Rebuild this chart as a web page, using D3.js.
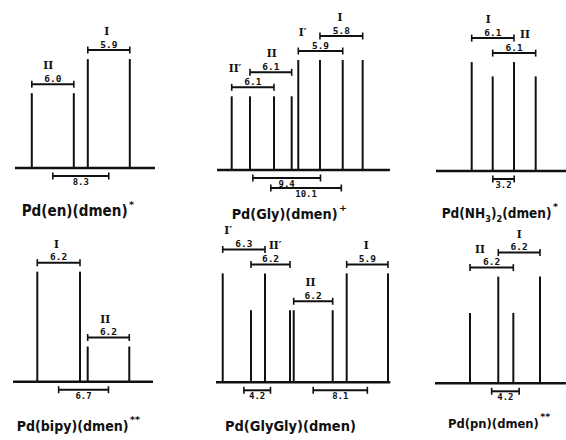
<!DOCTYPE html>
<html><head><meta charset="utf-8">
<script src="https://cdn.jsdelivr.net/npm/d3@7"></script>
<style>body{margin:0;background:#fff}svg{display:block}</style></head>
<body><svg id="c" width="566" height="440"></svg>
<script>
// ---- data (positions in Hz within each spectrum) ----
// titles: array of [text, isSubscript] segments
const titles = [
  [["Pd(en)(dmen)", 0]],
  [["Pd(Gly)(dmen)", 0]],
  [["Pd(NH", 0], ["3", 1], [")", 0], ["2", 1], ["(dmen)", 0]],
  [["Pd(bipy)(dmen)", 0]],
  [["Pd(GlyGly)(dmen)", 0]],
  [["Pd(pn)(dmen)", 0]]
];
const titleSup = ["*", "+", "*", "**", "", "**"];
const multLabels = [["II","I"],["II′","II","I′","I"],["I","II"],["I","II"],["I′","II′","II","I"],["II","I"]];
const multLines = [
  [[2.4, 8.4], [10.4, 16.4]],
  [[2.1, 8.14], [4.71, 10.67], [11.61, 17.96], [14.71, 20.81]],
  [[5.1, 11.14], [8.1, 14.24]],
  [[3.47, 9.57], [10.67, 16.61]],
  [[0.96, 7.0], [5.0, 10.57], [11.1, 16.67], [18.67, 24.57]],
  [[5.0, 11.19], [9.04, 15.0]]
];
const multHeights = [[0.68, 0.99], [0.67, 0.67, 1.0, 1.0], [0.99, 0.86], [1.0, 0.32], [0.99, 0.655, 0.655, 0.99], [0.64, 0.97]];
const couplingJ = [["6.0","5.9"], ["6.1","6.1","5.9","5.8"], ["6.1","6.1"], ["6.2","6.2"], ["6.3","6.2","6.2","5.9"], ["6.2","6.2"]];
const shiftDiff = [[[0,1,"8.3"]], [[0,2,"9.4"],[1,3,"10.1"]], [[0,1,"3.2"]], [[0,1,"6.7"]], [[0,1,"4.2"],[2,3,"8.1"]], [[0,1,"4.2"]]];
const axisSpan = [20, 24.7, 18.6, 20, 24.9, 18.7];

// ---- layout ----
const panelLeft = [15, 217, 436, 13, 216, 435];
const pxPerHz = 7;
const baseY = [168, 170, 171, 381.7, 382.3, 383.3];
const jTier = [[1,1],[1,2,1,2],[2,1],[1,1],[2,1,1,1],[1,2]];
const shiftTier = [[1],[1,2],[1],[1],[1,1],[1]];
const labelFrac = [[0.39,0.45],[0.08,0.52,0.1,0.47],[0.39,0.75],[0.45,0.42],[0.13,0.62,0.43,0.47],[0.23,0.5]];
const titleX = [21.7, 231.7, 441.7, 16.7, 225, 448];
const titleY = [216, 219, 218, 431, 430.5, 427.5];
const titleW = [106, 106, 110, 112, 131, 91];

const svg = d3.select("#c");
svg.append("rect").attr("width",566).attr("height",440).attr("fill","#fff");
const ink = "#111";
const titleFont = "'Liberation Sans Narrow', 'DejaVu Sans Condensed', 'DejaVu Sans', sans-serif";
const hScale = d3.scaleLinear().domain([0, 1]).range([0, 110]);

titles.forEach((segs, p) => {
  const g = svg.append("g");
  const x = d3.scaleLinear().domain([0, axisSpan[p]]).range([panelLeft[p], panelLeft[p] + axisSpan[p] * pxPerHz]);
  const y0 = baseY[p];
  g.append("line").attr("x1", x(0)).attr("x2", x(axisSpan[p])).attr("y1", y0).attr("y2", y0)
    .attr("stroke", ink).attr("stroke-width", 2.6);
  const lines = [];
  multLines[p].forEach((m, i) => m.forEach(v => lines.push({v, h: multHeights[p][i]})));
  g.selectAll("line.pk").data(lines).join("line").attr("class","pk")
    .attr("x1", d => x(d.v)).attr("x2", d => x(d.v))
    .attr("y1", y0).attr("y2", d => y0 - hScale(d.h))
    .attr("stroke", ink).attr("stroke-width", 2);
  multLines[p].forEach((m, i) => {
    const a = d3.min(m), b = d3.max(m);
    const maxH = d3.max(lines.filter(l => l.v >= a - 0.01 && l.v <= b + 0.01), l => l.h);
    const by = y0 - hScale(maxH) - (jTier[p][i] === 1 ? 9 : 24);
    const bg = g.append("g");
    bg.append("line").attr("x1", x(a)).attr("x2", x(b)).attr("y1", by).attr("y2", by).attr("stroke", ink).attr("stroke-width", 2);
    [a, b].forEach(v => bg.append("line").attr("x1", x(v)).attr("x2", x(v)).attr("y1", by - 3.5).attr("y2", by + 3.5).attr("stroke", ink).attr("stroke-width", 1.6));
    bg.append("text").attr("x", (x(a) + x(b)) / 2).attr("y", by - 2.5).attr("text-anchor", "middle")
      .attr("font-family", "DejaVu Sans Mono").attr("font-weight", "bold").attr("font-size", 9.5).attr("fill", ink)
      .text(couplingJ[p][i]);
    bg.append("text").attr("x", x(a) + (x(b) - x(a)) * labelFrac[p][i]).attr("y", by - 15).attr("text-anchor", "middle")
      .attr("font-family", "DejaVu Serif").attr("font-weight", "bold").attr("font-size", 10.5).attr("fill", ink)
      .text(multLabels[p][i]);
  });
  shiftDiff[p].forEach((s, k) => {
    const ca = d3.mean(multLines[p][s[0]]), cb = d3.mean(multLines[p][s[1]]);
    const by = y0 + (shiftTier[p][k] === 1 ? 8 : 18);
    const sg = g.append("g");
    sg.append("line").attr("x1", x(ca)).attr("x2", x(cb)).attr("y1", by).attr("y2", by).attr("stroke", ink).attr("stroke-width", 2);
    [ca, cb].forEach(v => sg.append("line").attr("x1", x(v)).attr("x2", x(v)).attr("y1", by - 3.5).attr("y2", by + 3.5).attr("stroke", ink).attr("stroke-width", 1.6));
    sg.append("text").attr("x", (x(ca) + x(cb)) / 2).attr("y", by + 9).attr("text-anchor", "middle")
      .attr("font-family", "DejaVu Sans Mono").attr("font-weight", "bold").attr("font-size", 9).attr("fill", ink)
      .text(s[2]);
  });
  const fs0 = 15;
  const tt = g.append("text").attr("x", titleX[p]).attr("y", titleY[p])
    .attr("font-family", titleFont).attr("font-weight", "bold").attr("font-size", fs0).attr("fill", ink);
  let shifted = false;
  segs.forEach(([s, sub]) => {
    const ts = tt.append("tspan").text(s);
    if (sub && !shifted) { ts.attr("dy", 4).attr("font-size", fs0 * 0.67); shifted = true; }
    else if (sub) { ts.attr("font-size", fs0 * 0.67); }
    else if (shifted) { ts.attr("dy", -4); shifted = false; }
  });
  const natural = tt.node().getComputedTextLength();
  const fs = Math.min(18, fs0 * titleW[p] / natural);
  tt.attr("font-size", fs);
  tt.selectAll("tspan").filter((d, i, n) => n[i].getAttribute("font-size")).attr("font-size", fs * 0.67);
  const realW = tt.node().getComputedTextLength();
  if (titleSup[p]) g.append("text").attr("x", titleX[p] + realW + 1.5).attr("y", titleY[p] - 8)
    .attr("font-family", "DejaVu Sans").attr("font-weight", "bold").attr("font-size", 9.5).attr("fill", ink)
    .text(titleSup[p]);
});
</script></body></html>
